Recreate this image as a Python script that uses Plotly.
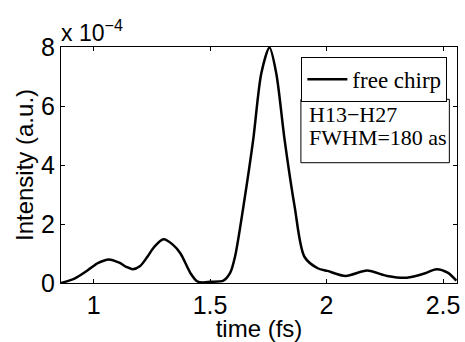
import plotly.graph_objects as go

time_fs = [0.86, 0.92, 0.976, 1.02, 1.065, 1.11, 1.14, 1.167, 1.20, 1.231, 1.26, 1.30, 1.34, 1.373, 1.416,
           1.444, 1.47, 1.50, 1.557, 1.586, 1.607, 1.643, 1.685, 1.720, 1.755, 1.784, 1.820, 1.863,
           1.905, 1.962, 2.004, 2.082, 2.174, 2.26, 2.345, 2.42, 2.472, 2.52, 2.557]
intensity_e4 = [0.0, 0.16, 0.44, 0.68, 0.80, 0.69, 0.55, 0.47, 0.58, 0.89, 1.22, 1.48, 1.30, 1.0, 0.33,
                0.06, 0.02, 0.04, 0.08, 0.34, 0.89, 2.59, 4.85, 7.11, 7.98, 7.11, 4.85, 2.59,
                0.89, 0.50, 0.41, 0.24, 0.42, 0.24, 0.18, 0.32, 0.47, 0.35, 0.08]
x_ticks = [1, 1.5, 2, 2.5]
y_ticks = [0, 2, 4, 6, 8]

SANS = "Liberation Sans, Arial"
SERIF = "Liberation Serif, Times New Roman"

fig = go.Figure()
fig.add_trace(go.Scatter(x=time_fs, y=intensity_e4, mode="lines", name="free chirp",
                         line=dict(color="black", width=2.5, shape="spline", smoothing=0.8)))

axis_common = dict(showline=True, linecolor="black", linewidth=1, mirror="ticks",
                   ticks="inside", ticklen=4, tickcolor="black", showgrid=False, zeroline=False,
                   tickfont=dict(family=SANS, size=25, color="black"))
fig.update_xaxes(range=[0.86, 2.56], tickvals=x_ticks, ticktext=["1", "1.5", "2", "2.5"],
                 title=dict(text="time (fs)", font=dict(family=SANS, size=24, color="black"),
                            standoff=0), **axis_common)
fig.update_yaxes(range=[0, 8], tickvals=y_ticks,
                 title=dict(text="Intensity (a.u.)", font=dict(family=SANS, size=24, color="black"),
                            standoff=0), **axis_common)

fig.add_annotation(x=0, y=1, xref="paper", yref="paper", xanchor="left", yanchor="bottom",
                   text="x 10<sup>\u22124</sup>", showarrow=False, yshift=-1, xshift=-2,
                   font=dict(family=SANS, size=23, color="black"))

# text box
fig.add_shape(type="rect", xref="paper", yref="paper", x0=0.6058, x1=0.9807, y0=0.5097, y1=0.7784,
              line=dict(color="black", width=1), fillcolor="white", layer="above")
fig.add_annotation(x=0.6216, y=0.713, xref="paper", yref="paper", xanchor="left", yanchor="middle",
                   text="H13\u2212H27", showarrow=False,
                   font=dict(family=SERIF, size=22, color="black"))
fig.add_annotation(x=0.6216, y=0.617, xref="paper", yref="paper", xanchor="left", yanchor="middle",
                   text="FWHM=180 as", showarrow=False,
                   font=dict(family=SERIF, size=22, color="black"))

fig.update_layout(
    width=465, height=342, margin=dict(l=61, r=5, t=47, b=59),
    plot_bgcolor="white", paper_bgcolor="white",
    legend=dict(x=0.607, y=0.959, xanchor="left", yanchor="top", bordercolor="black", borderwidth=1,
                bgcolor="white", font=dict(family=SERIF, size=23, color="black"),
                itemwidth=40, tracegroupgap=0),
    showlegend=True,
)
fig.write_html("out.html")
